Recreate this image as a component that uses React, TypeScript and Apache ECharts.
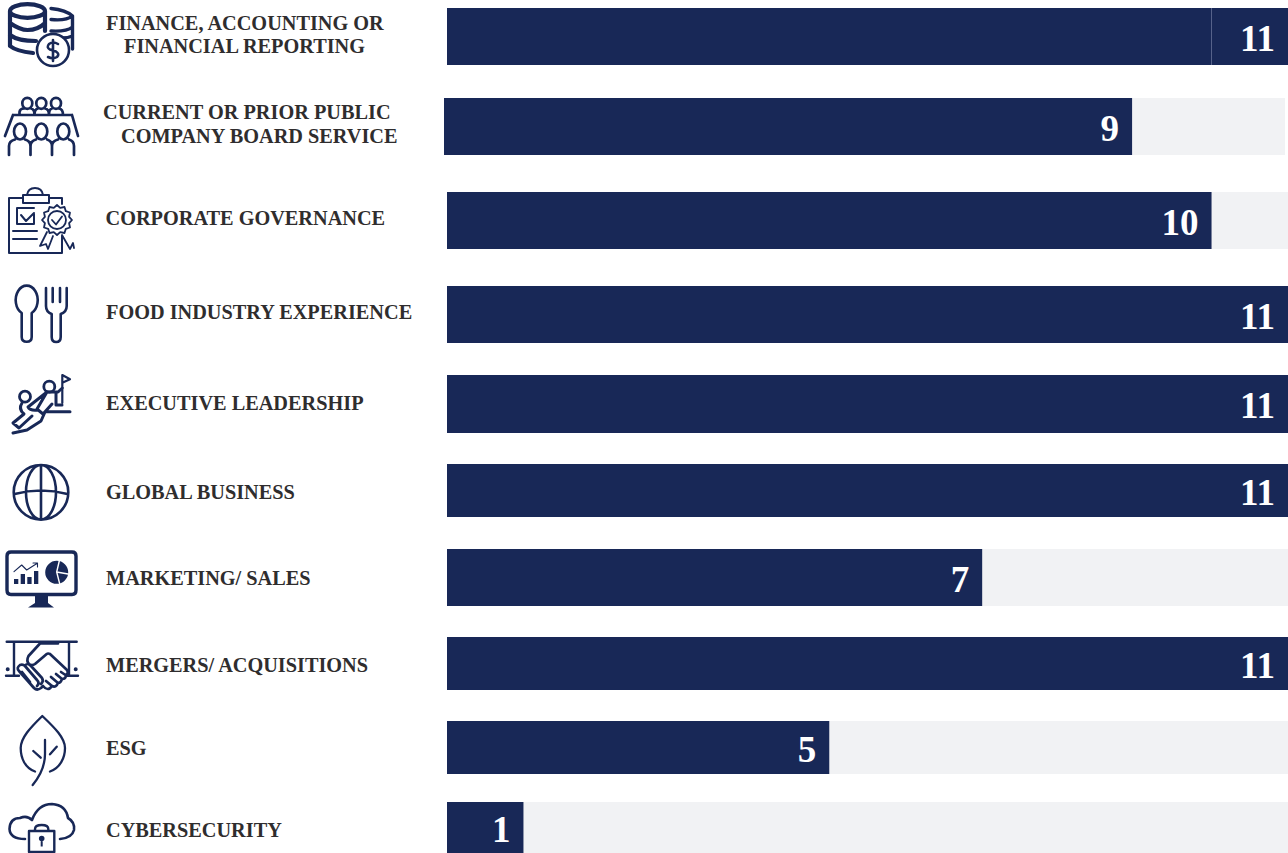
import React, { useEffect, useRef } from "react";
import * as echarts from "echarts";

// Board skills matrix: number of directors holding each skill.
const skills = [
  "Finance, Accounting or Financial Reporting",
  "Current or Prior Public Company Board Service",
  "Corporate Governance",
  "Food Industry Experience",
  "Executive Leadership",
  "Global Business",
  "Marketing/ Sales",
  "Mergers/ Acquisitions",
  "ESG",
  "Cybersecurity",
];
const counts = [11, 9, 10, 11, 11, 11, 7, 11, 5, 1];
const maxCount = 11;

// Caption lines beside each bar.
const captionLines = [
  ["FINANCE, ACCOUNTING OR", "FINANCIAL REPORTING"],
  ["CURRENT OR PRIOR PUBLIC", "COMPANY BOARD SERVICE"],
  ["CORPORATE GOVERNANCE"],
  ["FOOD INDUSTRY EXPERIENCE"],
  ["EXECUTIVE LEADERSHIP"],
  ["GLOBAL BUSINESS"],
  ["MARKETING/ SALES"],
  ["MERGERS/ ACQUISITIONS"],
  ["ESG"],
  ["CYBERSECURITY"],
];

// Row layout in pixels.
const rowTop = [8, 98, 192, 286, 375, 464, 549, 637, 721, 802];
const rowHeight = [57, 57, 57, 57, 58, 53, 57, 53, 53, 51];
const rowLeft = [447, 444, 447, 447, 447, 447, 447, 447, 447, 447];
const trackWidth = 841;
const captionX = [[106, 124], [103, 121], [105.5], [106], [106], [106], [106], [106], [106], [106]];
const captionY = [[23, 46], [112, 136], [218], [312], [403], [492], [578], [665], [748], [830]];

const NAVY = "#182857";
const TRACK = "#f1f2f4";
const INK = "#2f2d2e";
const SERIF = '"Liberation Serif", serif';

// Rosette outline for the governance badge.
const rosette = (() => {
  const cx = 57, cy = 220, teeth = 12;
  let d = "";
  for (let i = 0; i < teeth * 2; i++) {
    const r = i % 2 ? 12.5 : 15;
    const a = (Math.PI * i) / teeth;
    d += `${i ? "L" : "M"}${(cx + r * Math.sin(a)).toFixed(1)} ${(cy - r * Math.cos(a)).toFixed(1)} `;
  }
  return d + "Z";
})();

type Icon = { d: string; width?: number; filled?: boolean; white?: boolean };

// Pictograms, one list of paths per row, in page coordinates.
const icons: Icon[][] = [
  [
    { d: "M10 11 A17.5 6.8 0 1 1 45 11 A17.5 6.8 0 1 1 10 11 Z M10 11 V46 Q16 51 33 53 M10 23 Q20 30 27.5 30 Q38 30 45 23 M10 35 Q18 41 36 41 M45 11 V31", width: 4.2 },
    { d: "M51 8.5 Q66 10 72.5 16 V49 M51 19.5 Q66 21 72.5 16 M51 31 Q66 32 72.5 27 M62 38 Q68 38 72.5 36", width: 3.4 },
    { d: "M69 50 A16 16 0 1 1 37 50 A16 16 0 1 1 69 50 Z", width: 2.6, white: true },
    { d: "M58 44 Q53 41 49 44 Q46 47.5 50 49.5 L56 51.5 Q60 54 57 57 Q53 59.5 48 57 M53 40 V61", width: 2.6 },
  ],
  [
    {
      d: "M32.3 103.3 A5 5.5 0 1 1 22.3 103.3 A5 5.5 0 1 1 32.3 103.3 Z M46.3 103.3 A5 5.5 0 1 1 36.3 103.3 A5 5.5 0 1 1 46.3 103.3 Z M61 103.3 A5 5.5 0 1 1 51 103.3 A5 5.5 0 1 1 61 103.3 Z " +
        "M19.5 115 V112 Q20 108.5 24 108.5 M31 108.5 Q34.5 109 34.5 115 M38 108.5 Q34.5 109 34.5 115 M45 108.5 Q49 109 49 115 M52 108.5 Q49 109 49 115 M59 108.5 Q63 109 63 115 " +
        "M13 115 H72 M13 115 L5 136 M72 115 L78 136 " +
        "M26 131.5 A6 8 0 1 1 14 131.5 A6 8 0 1 1 26 131.5 Z M47.3 131.5 A6 8 0 1 1 35.3 131.5 A6 8 0 1 1 47.3 131.5 Z M69.3 131.5 A6 8 0 1 1 57.3 131.5 A6 8 0 1 1 69.3 131.5 Z " +
        "M9 155 V146 Q9 141 15 139.5 M25 139.5 Q30.5 141 30.5 146 V155 M36 139.5 Q30.5 141 30.5 146 M47 139.5 Q52 141 52 146 V155 M58 139.5 Q52 141 52 146 M69 139.5 Q74 141 74 146 V155",
      width: 2.7,
    },
  ],
  [
    { d: "M23 198 H9 V253 H62 V236 M49 198 H62 V204 M23 203 V195 H49 V203 Z M27 195 Q28 188 35 188 Q42 188 43 195 M34 208 H17 V224 H34 V214 M21 215 L26 221 L34 213 M13 231 H37 M13 239 H37 ", width: 2 },
    { d: rosette, width: 1.8 },
    { d: "M66 220 A9 9 0 1 1 48 220 A9 9 0 1 1 66 220 Z M52 220 L56 224.5 L62 216.5 M47 232 L40 246 L46 244 L48 249 L53 236 M62 235 L70 249 L73 243 L74 248", width: 1.8 },
  ],
  [
    { d: "M21.7 313 A11 14.5 0 1 1 31.7 313 V337 Q31.7 341.7 26.7 341.7 Q21.7 341.7 21.7 337 Z M46 288 V306 Q46 312 51.7 314 V337 Q51.7 342 56.2 342 Q60.7 342 60.7 337 V314 Q66.7 312 66.7 306 V288 M52.7 288 V302 M60 288 V302", width: 2.6 },
  ],
  [
    { d: "M62.3 403 V375 L70 379.3 L62.3 382.7", width: 2.2 },
    { d: "M54.8 386.7 A5.5 5.5 0 1 1 43.8 386.7 A5.5 5.5 0 1 1 54.8 386.7 Z M30.5 396.7 A5.5 5.5 0 1 1 19.5 396.7 A5.5 5.5 0 1 1 30.5 396.7 Z", width: 2.8 },
    { d: "M28 407 L47 392 L58 392 L62.3 388 M47 392 L37 409 L43 414 L52 404 M56 393 V405 H62 M45 411.7 H70 M22 403 Q18 409 24 414 L13 423 L19 428 L32 416 M28 407 Q30 411 38 410 M13 433 L27 430 L41 421 L45 412", width: 3 },
  ],
  [
    { d: "M68.3 492.3 A27.3 27.3 0 1 1 13.7 492.3 A27.3 27.3 0 1 1 68.3 492.3 Z M56 492.3 A15 27.3 0 1 1 26 492.3 A15 27.3 0 1 1 56 492.3 Z M41 465 V519.6 M14.5 494 Q41 487 67.5 494", width: 2.6 },
  ],
  [
    { d: "M11 552 H72 Q76 552 76 556 V590 Q76 594.5 72 594.5 H11 Q7 594.5 7 590 V556 Q7 552 11 552 Z", width: 3.4 },
    { d: "M35 595 H48 V603 L54 607.5 H28 L35 603 Z M14 579 H18.3 V584 H14 Z M20.7 574 H25 V584 H20.7 Z M27.3 577 H31.6 V584 H27.3 Z M34 571 H38.3 V584 H34 Z M68.2 572.3 A11.5 11.5 0 1 1 45.2 572.3 A11.5 11.5 0 1 1 68.2 572.3 Z", filled: true },
    { d: "M14 571.7 L21.7 565 L26.7 570 L37.3 563.3 M33 563 H37.5 V567", width: 1.1 },
    { d: "M59.5 560 L56.7 572 L60 585 M56.7 572 L68 574", width: 1.4, white: true },
  ],
  [
    { d: "M6.7 641.7 H76.7 M14 641.7 V675 M69 641.7 V675 M6 675.7 H19 M66 675.7 H78", width: 2.4 },
    { d: "M9.7 669.3 A2 2 0 1 1 5.7 669.3 A2 2 0 1 1 9.7 669.3 Z M77.7 669.3 A2 2 0 1 1 73.7 669.3 A2 2 0 1 1 77.7 669.3 Z", filled: true },
    { d: "M40 643.5 L28.5 656 Q26 661 29 664 Q32 666 35 664 L46.7 654 Q48 653 50 654 L67 670 Q69 674 65.5 675 L61 672 M66 675 Q66 679 62 679 L56 674 M62 679 Q61 683 58 683 L51 677 M58 683 Q56 688 52 686 L46 681 M52 686 Q48 692 43 686 L41 688 Q37 691 34 688 L19 671 Q16 668 20 665 Q23 664 25 666 L37 680 Q40 683 37 686 M25 666 Q27 662 31 666 L42 678 Q44 681 41 684 M22 672 L30 682 M40 643.5 H58", width: 2.7 },
  ],
  [
    { d: "M35 771.5 C25 768 20.7 758 20.7 748 C20.7 738 30 728 42.3 716 C55 728 65 738 65 748 C65 758 60 768 50 771.5 M45 740 V754 Q45 770 32.7 785 M33.3 751 L40.7 757.7 M56.7 746.7 L50 754.3", width: 2.3 },
  ],
  [
    { d: "M25 839 Q10 839 9.5 829 Q10 818 20 818 Q27 815 32 820 Q38 804 52 804 Q66 805 68 818 Q75 822 74 830 Q72 838 60 839", width: 2.6 },
    { d: "M29 831 H54.3 V852 H29 Z M35 831 V829 Q35 825 41.7 825 Q48.3 825 48.3 829 V831", width: 2.4 },
    { d: "M44.5 838.5 A2.8 2.8 0 1 1 38.9 838.5 A2.8 2.8 0 0 1 44.5 838.5 Z M40.7 840 H42.7 V846.5 H40.7 Z", filled: true },
  ],
];

const iconShapes: { type: string; style: Icon }[] = [];
icons.forEach((paths, row) => {
  paths.forEach((p, i) => {
    const type = `skill-icon-${row}-${i}`;
    echarts.graphic.registerShape(type, echarts.graphic.extendPath(p.d, {}) as any);
    iconShapes.push({ type, style: p });
  });
});

export default function App() {
  const ref = useRef<HTMLDivElement>(null);

  useEffect(() => {
    const chart = echarts.init(ref.current!, undefined, { renderer: "svg" });

    const grid = skills.map((_, i) => ({
      left: rowLeft[i],
      top: rowTop[i],
      width: trackWidth,
      height: rowHeight[i],
      containLabel: false,
    }));
    const xAxis = skills.map((_, i) => ({ gridIndex: i, type: "value", min: 0, max: maxCount, show: false }));
    const yAxis = skills.map((name, i) => ({ gridIndex: i, type: "category", data: [name], show: false }));

    const series = skills.map((name, i) => ({
      type: "bar",
      name,
      xAxisIndex: i,
      yAxisIndex: i,
      barWidth: "100%",
      data: [counts[i]],
      itemStyle: { color: NAVY },
      showBackground: true,
      backgroundStyle: { color: TRACK },
      label: {
        show: true,
        position: "insideRight",
        distance: 13,
        offset: [0, 1.5],
        formatter: "{c}",
        fontFamily: SERIF,
        fontSize: 37,
        fontWeight: "bold",
        color: "#ffffff",
      },
      // The first bar carries a hairline at the ten-director mark.
      ...(i === 0
        ? {
            markLine: {
              silent: true,
              symbol: "none",
              label: { show: false },
              lineStyle: { color: "#56628a", width: 1, type: "solid" },
              data: [{ xAxis: 10 }],
            },
          }
        : {}),
    }));

    const captions = captionLines.flatMap((lines, i) =>
      lines.map((text, j) => ({
        type: "text",
        x: captionX[i][j],
        y: captionY[i][j],
        style: {
          text,
          fontFamily: SERIF,
          fontSize: 20.3,
          fontWeight: "bold",
          fill: INK,
          textVerticalAlign: "middle",
        },
      }))
    );

    const pictograms = iconShapes.map(({ type, style }) => ({
      type,
      x: 0,
      y: 0,
      style: style.filled
        ? { fill: NAVY, stroke: "none" }
        : {
            fill: style.white && style.width! >= 2 ? "#ffffff" : "none",
            stroke: style.white && style.width! < 2 ? "#ffffff" : NAVY,
            lineWidth: style.width,
            lineCap: "round",
            lineJoin: "round",
          },
    }));

    chart.setOption({
      animation: false,
      backgroundColor: "#ffffff",
      grid,
      xAxis,
      yAxis,
      series,
      graphic: [...captions, ...pictograms],
    });

    return () => chart.dispose();
  }, []);

  return <div ref={ref} style={{ position: "absolute", left: 0, top: 0, width: 1288, height: 853 }} />;
}
